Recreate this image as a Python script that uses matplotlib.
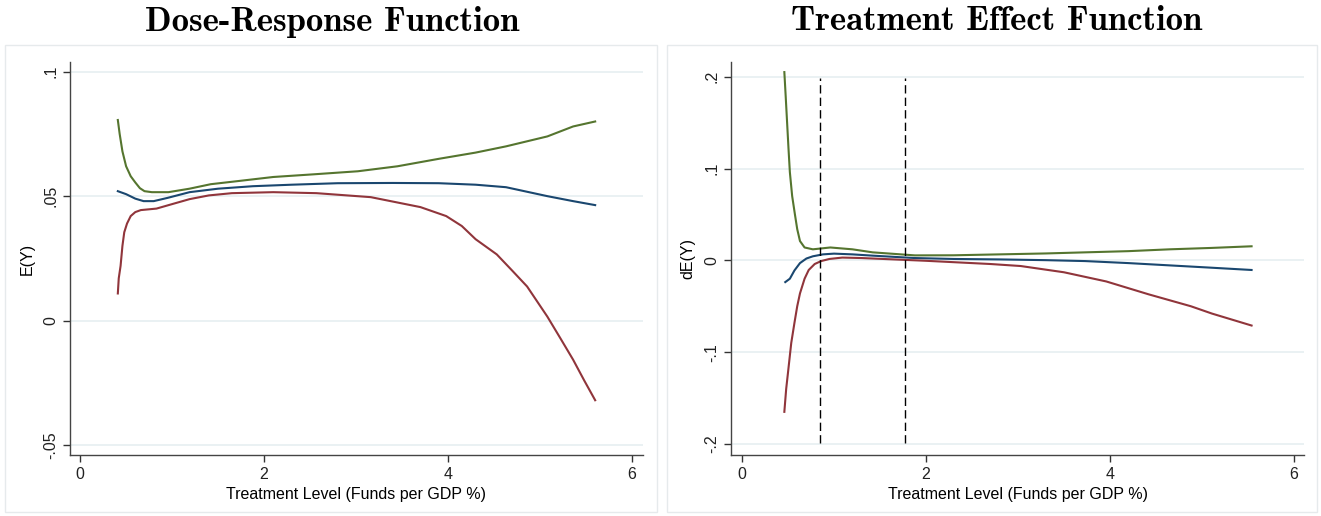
import matplotlib.pyplot as plt
from matplotlib.patches import Rectangle

# Dose-response panel
dr_x_upper = [0.41, 0.43, 0.46, 0.50, 0.55, 0.60, 0.65, 0.70, 0.78, 0.96, 1.19, 1.42, 1.75, 2.10, 2.55, 3.02, 3.45, 3.90, 4.30, 4.63, 5.08, 5.36, 5.60]
dr_upper = [0.0806, 0.075, 0.068, 0.062, 0.058, 0.0555, 0.0532, 0.052, 0.0516, 0.0516, 0.053, 0.0548, 0.0562, 0.0577, 0.0588, 0.060, 0.062, 0.065, 0.0675, 0.070, 0.074, 0.078, 0.080]
dr_x_mid = [0.41, 0.50, 0.60, 0.69, 0.80, 0.95, 1.19, 1.50, 1.88, 2.30, 2.80, 3.40, 3.90, 4.30, 4.63, 5.08, 5.36, 5.60]
dr_mid = [0.052, 0.0508, 0.049, 0.048, 0.048, 0.0493, 0.0516, 0.053, 0.054, 0.0546, 0.0552, 0.0553, 0.0552, 0.0546, 0.0536, 0.050, 0.048, 0.0464]
dr_x_lower = [0.41, 0.42, 0.44, 0.46, 0.48, 0.51, 0.55, 0.60, 0.66, 0.83, 1.00, 1.19, 1.40, 1.65, 2.10, 2.57, 3.16, 3.70, 3.98, 4.15, 4.30, 4.53, 4.70, 4.86, 5.08, 5.22, 5.36, 5.48, 5.60]
dr_lower = [0.0109, 0.017, 0.022, 0.030, 0.0355, 0.039, 0.042, 0.0436, 0.0444, 0.045, 0.0468, 0.0488, 0.0503, 0.0512, 0.0516, 0.0512, 0.0496, 0.0456, 0.042, 0.038, 0.0327, 0.0266, 0.020, 0.0137, 0.0016, -0.007, -0.0157, -0.024, -0.032]

# Treatment-effect panel
te_x_upper = [0.46, 0.475, 0.49, 0.505, 0.52, 0.545, 0.575, 0.60, 0.63, 0.68, 0.77, 0.96, 1.20, 1.42, 1.88, 2.30, 2.80, 3.30, 3.73, 4.20, 4.65, 5.10, 5.54]
te_upper = [0.205, 0.178, 0.150, 0.122, 0.096, 0.070, 0.050, 0.034, 0.021, 0.014, 0.012, 0.014, 0.012, 0.0087, 0.0054, 0.0055, 0.0065, 0.0075, 0.0087, 0.010, 0.012, 0.0135, 0.0153]
te_x_mid = [0.47, 0.52, 0.57, 0.63, 0.70, 0.77, 0.88, 1.00, 1.20, 1.42, 1.88, 2.30, 2.80, 3.30, 3.73, 4.20, 4.65, 5.10, 5.54]
te_mid = [-0.0237, -0.020, -0.011, -0.003, 0.002, 0.0044, 0.0065, 0.0073, 0.0065, 0.0051, 0.0025, 0.0015, 0.001, 0.0002, -0.0008, -0.003, -0.0055, -0.008, -0.0105]
te_x_lower = [0.46, 0.48, 0.50, 0.535, 0.57, 0.60, 0.63, 0.68, 0.725, 0.79, 0.86, 0.95, 1.09, 1.30, 1.65, 2.00, 2.34, 2.70, 3.03, 3.50, 3.96, 4.42, 4.88, 5.11, 5.54]
te_lower = [-0.165, -0.140, -0.122, -0.090, -0.068, -0.050, -0.036, -0.020, -0.0105, -0.004, -0.0008, 0.0015, 0.003, 0.0025, 0.001, -0.0005, -0.0022, -0.004, -0.0062, -0.013, -0.023, -0.037, -0.050, -0.058, -0.071]

te_vlines = [0.85, 1.77]

blue = "#1a476f"
red = "#90353b"
green = "#55752f"
grid_col = "#e8f0f2"

plt.rcParams['font.family'] = ['Liberation Sans', 'DejaVu Sans']

fig = plt.figure(figsize=(13.21, 5.16), dpi=100)

# light frames round each panel
for x0, w in [(5, 652), (667, 650)]:
    fig.patches.append(Rectangle((x0 / 1321, 4 / 516), w / 1321, 467 / 516,
                                 transform=fig.transFigure, fill=False,
                                 edgecolor="#e6eaec", linewidth=1.0))

ax1 = fig.add_axes([70 / 1321, 61 / 516, 573 / 1321, 393 / 516])
ax2 = fig.add_axes([731 / 1321, 61 / 516, 573 / 1321, 393 / 516])


def style(ax, yticks, ylabels, ylabel):
    ax.set_yticks(yticks)
    ax.set_yticklabels(ylabels, rotation=90, va="center")
    ax.set_xticks([0, 2, 4, 6])
    ax.set_xticklabels(["0", "2", "4", "6"])
    ax.grid(axis="y", color=grid_col, linewidth=1.3)
    ax.set_axisbelow(True)
    for s in ["top", "right"]:
        ax.spines[s].set_visible(False)
    for s in ["left", "bottom"]:
        ax.spines[s].set_color("#444444")
        ax.spines[s].set_linewidth(1.0)
    ax.tick_params(direction="out", length=5, width=1, color="#333333",
                   labelsize=11.5, labelcolor="#222222")
    ax.set_xlabel("Treatment Level (Funds per GDP %)", fontsize=11.5, labelpad=4)
    ax.set_ylabel(ylabel, fontsize=11.5, labelpad=6)


ax1.plot(dr_x_upper, dr_upper, color=green, lw=1.5)
ax1.plot(dr_x_mid, dr_mid, color=blue, lw=1.5)
ax1.plot(dr_x_lower, dr_lower, color=red, lw=1.5)
ax1.set_xlim(-0.11, 6.12)
ax1.set_ylim(-0.054, 0.1039)
style(ax1, [-0.05, 0, 0.05, 0.1], ["-.05", "0", ".05", ".1"], "E(Y)")

ax2.plot(te_x_upper, te_upper, color=green, lw=1.5)
ax2.plot(te_x_mid, te_mid, color=blue, lw=1.5)
ax2.plot(te_x_lower, te_lower, color=red, lw=1.5)
for v in te_vlines:
    ax2.axvline(v, ymin=0.03, ymax=0.96, color="black", lw=1.0, linestyle=(0, (6, 3)))
ax2.set_xlim(-0.12, 6.11)
ax2.set_ylim(-0.212, 0.216)
style(ax2, [-0.2, -0.1, 0, 0.1, 0.2], ["-.2", "-.1", "0", ".1", ".2"], "dE(Y)")

fig.text(332 / 1321, 1 - 22 / 516, "Dose-Response Function", family="cmb10",
         fontsize=25, ha="center", va="center")
fig.text(997 / 1321, 1 - 22 / 516, "Treatment Effect Function", family="cmb10",
         fontsize=25, ha="center", va="center")

fig.savefig("out.png", dpi=100)
